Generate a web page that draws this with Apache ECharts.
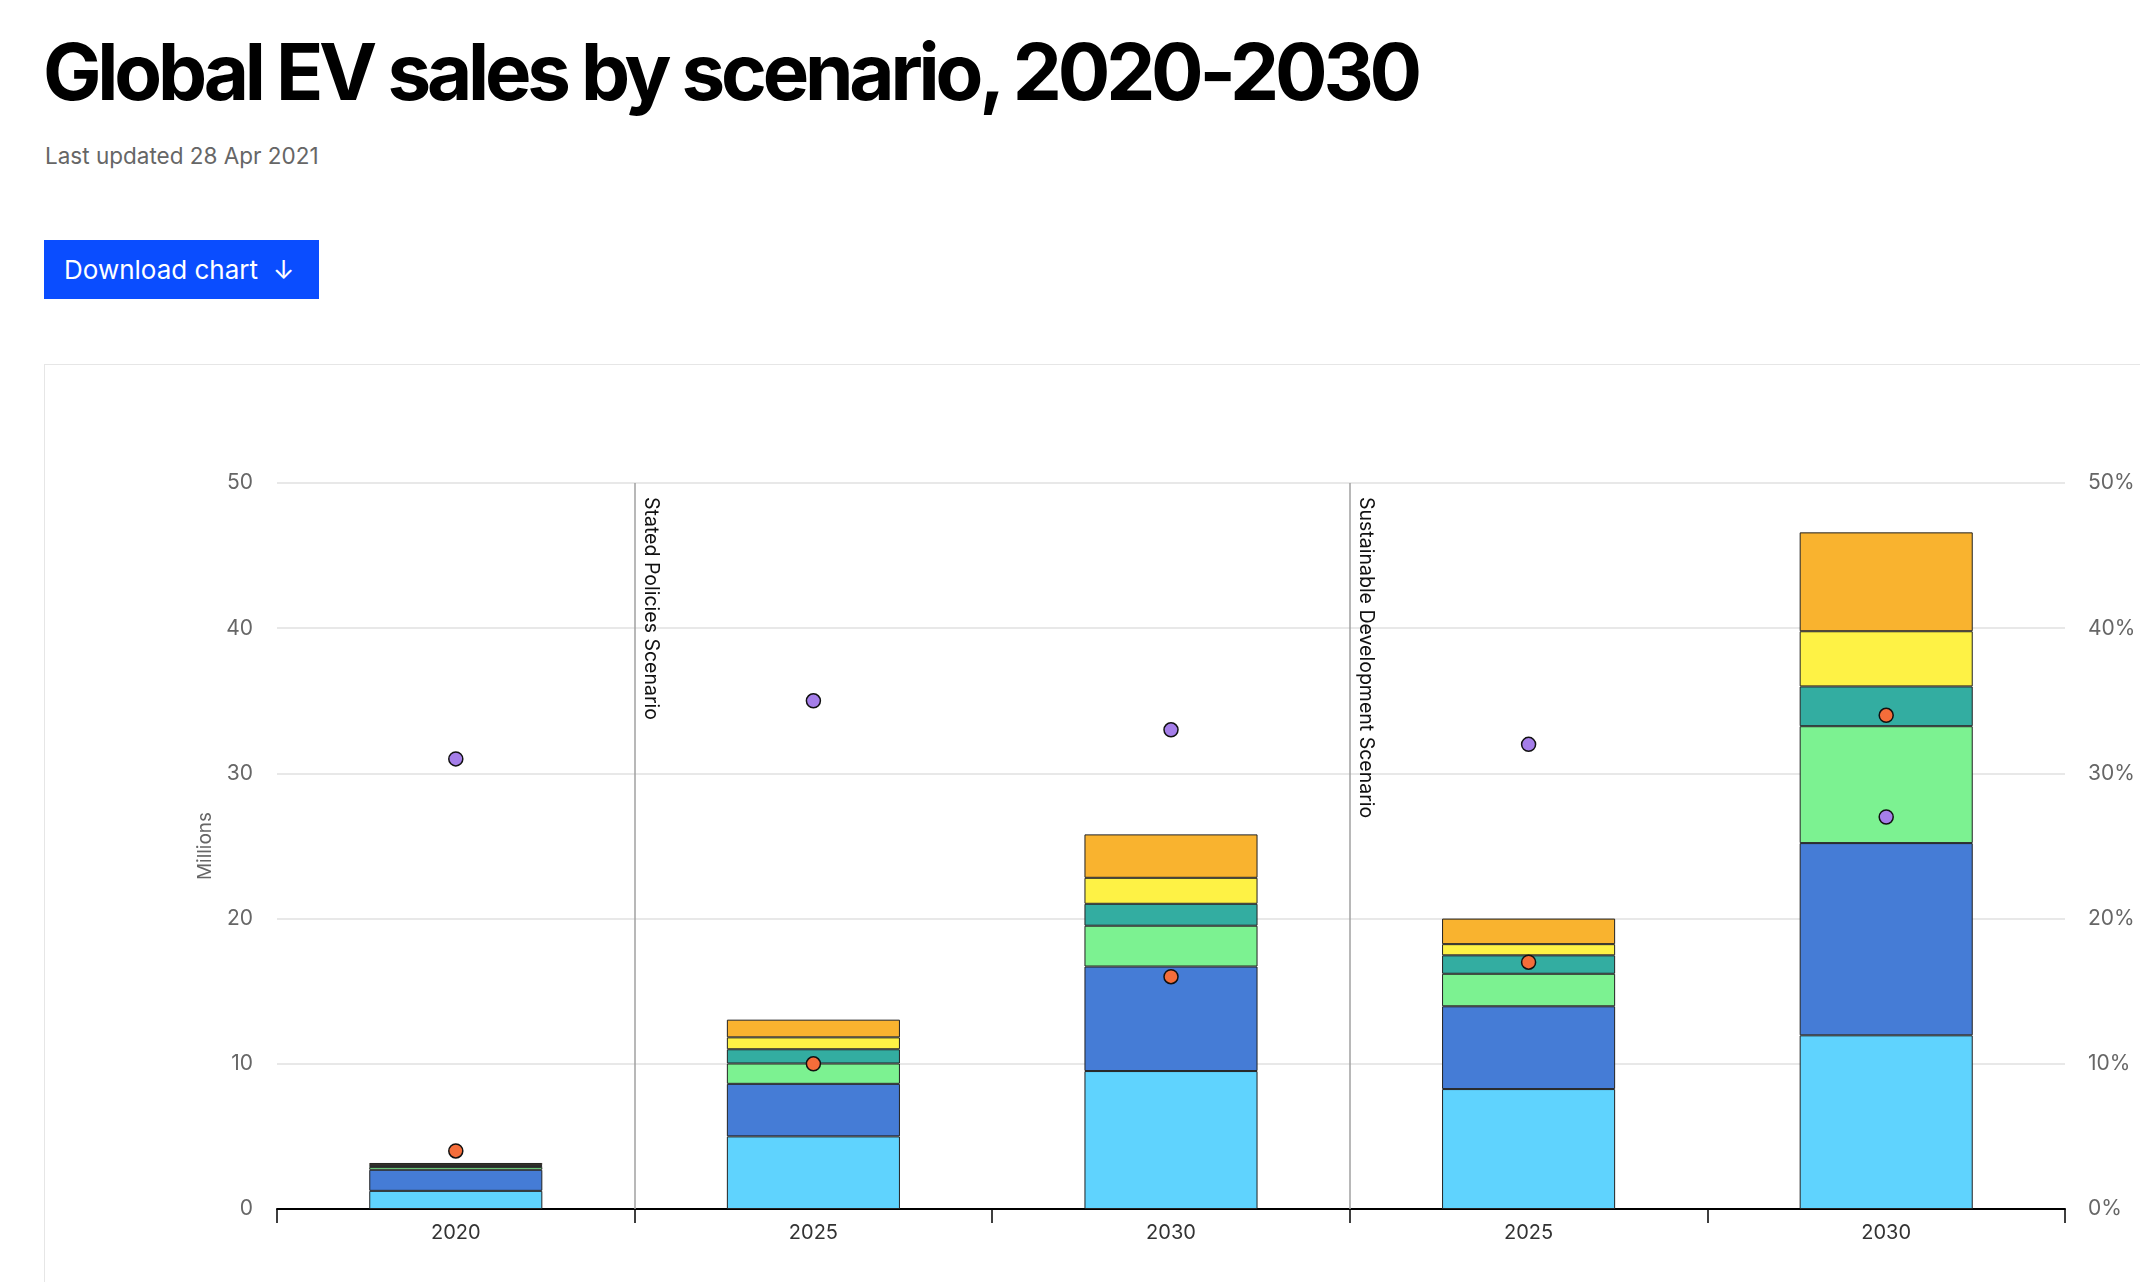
<!DOCTYPE html>
<html>
<head>
<meta charset="utf-8">
<script src="https://cdn.jsdelivr.net/npm/echarts@6/dist/echarts.min.js"></script>
<style>
  html, body { margin: 0; padding: 0; background: #fff; width: 2140px; height: 1282px; overflow: hidden; }
  #title { position: absolute; left: 43px; top: 33px; font-family: Inter, sans-serif; font-weight: 700; font-size: 78px; line-height: 78px; letter-spacing: -4.2px; color: #000; white-space: nowrap; }
  #updated { position: absolute; left: 45px; top: 142px; font-family: Inter, sans-serif; font-size: 22.5px; line-height: 28px; color: #666; white-space: nowrap; }
  #btn { position: absolute; left: 44px; top: 240px; width: 275px; height: 59px; background: #0a4dff; color: #fff; font-family: Inter, sans-serif; font-size: 26px; line-height: 59px; box-sizing: border-box; padding-left: 20px; white-space: nowrap; }
  #panel { position: absolute; left: 44px; top: 364px; width: 2200px; height: 1000px; border: 1px solid #e6e6e6; box-sizing: border-box; }
  #chart { position: absolute; left: 0; top: 0; width: 2140px; height: 1282px; }
</style>
</head>
<body>
<div id="title">Global EV sales by scenario, 2020-2030</div>
<div id="updated">Last updated 28 Apr 2021</div>
<div id="btn">Download chart&nbsp;&nbsp;↓</div>
<div id="panel"></div>
<div id="chart"></div>
<script>
// ---- data ----
const years = ['2020', '2025', '2030', '2025', '2030'];
const scenarioKeys = ['Base', 'SPS', 'SPS', 'SDS', 'SDS'];
const scenarioLabels = ['Stated Policies Scenario', 'Sustainable Development Scenario'];
const scenarioBoundaries = [1, 3];

const seriesNames = ['China', 'Europe', 'United States', 'Japan', 'India', 'Rest of world'];
const china      = [1.25, 5.00, 9.50,  8.26, 11.96];
const europe     = [1.45, 3.62, 7.20,  5.70, 13.24];
const us         = [0.20, 1.40, 2.81,  2.24,  8.05];
const japan      = [0.10, 0.98, 1.51,  1.27,  2.74];
const india      = [0.04, 0.82, 1.79,  0.77,  3.80];
const restWorld  = [0.13, 1.22, 2.99,  1.76,  6.81];

const evShare    = [4, 10, 16, 17, 34];   // % (right axis)
const phevShare  = [31, 35, 33, 32, 27];  // % (right axis)

const leftTicks = [0, 10, 20, 30, 40, 50];
const rightTicksSuffix = '%';

// ---- chart ----
const colors = ['#5fd3fe', '#457cd6', '#7cf291', '#33ada1', '#fef245', '#f9b32f'];
const barData = [china, europe, us, japan, india, restWorld];
const categories = years.map((y, i) => scenarioKeys[i] + '|' + y);

const chart = echarts.init(document.getElementById('chart'), null, { renderer: 'canvas' });

const barSeries = barData.map((d, i) => ({
  name: seriesNames[i],
  type: 'bar',
  stack: 'total',
  barWidth: '48.4%',
  data: d,
  itemStyle: { color: colors[i], borderColor: '#222', borderWidth: 1 },
  emphasis: { disabled: true }
}));

const option = {
  animation: false,
  grid: { left: 277, right: 75, top: 483, bottom: 73 },
  xAxis: [
    {
      type: 'category',
      data: categories,
      boundaryGap: true,
      axisLine: { lineStyle: { color: '#000', width: 2 } },
      axisTick: { show: true, length: 14, lineStyle: { color: '#000', width: 1.5 } },
      axisLabel: { formatter: v => v.split('|')[1], color: '#333', fontSize: 20, fontFamily: 'Inter, sans-serif', margin: 14 },
      splitLine: { show: false }
    },
    { type: 'value', min: 0, max: years.length, show: false }
  ],
  yAxis: [
    {
      type: 'value', min: leftTicks[0], max: leftTicks[leftTicks.length - 1], interval: 10,
      name: 'Millions', nameLocation: 'middle', nameGap: 62, nameRotate: 90,
      nameTextStyle: { color: '#666', fontSize: 19, fontFamily: 'Inter, sans-serif' },
      axisLine: { show: false }, axisTick: { show: false },
      axisLabel: { color: '#666', fontSize: 21, fontFamily: 'Inter, sans-serif', margin: 24 },
      splitLine: { lineStyle: { color: '#e8e8e8', width: 2 } }
    },
    {
      type: 'value', min: 0, max: 50, interval: 10, position: 'right',
      axisLine: { show: false }, axisTick: { show: false },
      axisLabel: { formatter: '{value}' + rightTicksSuffix, color: '#666', fontSize: 21, fontFamily: 'Inter, sans-serif', margin: 23 },
      splitLine: { show: false }
    }
  ],
  series: [
    ...barSeries,
    {
      name: 'Scenario divider', type: 'line', xAxisIndex: 1, yAxisIndex: 0, data: [], silent: true,
      markLine: {
        symbol: 'none', silent: true, animation: false,
        lineStyle: { color: '#a0a0a0', width: 1.5, type: 'solid' },
        label: { show: true, position: 'insideStartTop', color: '#111', fontSize: 19.5, fontFamily: 'Inter, sans-serif', distance: [14, 6] },
        data: scenarioBoundaries.map((b, i) => [
          { coord: [b, 50], name: scenarioLabels[i], label: { formatter: scenarioLabels[i] } },
          { coord: [b, 0] }
        ])
      }
    },
    {
      name: 'EV sales share', type: 'scatter', yAxisIndex: 1, data: evShare, symbolSize: 14, z: 5,
      itemStyle: { color: '#f56d3a', borderColor: '#111', borderWidth: 1.5, opacity: 1 }
    },
    {
      name: 'PHEV share', type: 'scatter', yAxisIndex: 1, data: phevShare, symbolSize: 14, z: 5,
      itemStyle: { color: '#a57ee9', borderColor: '#111', borderWidth: 1.5, opacity: 1 }
    }
  ]
};
chart.setOption(option);
</script>
</body>
</html>
